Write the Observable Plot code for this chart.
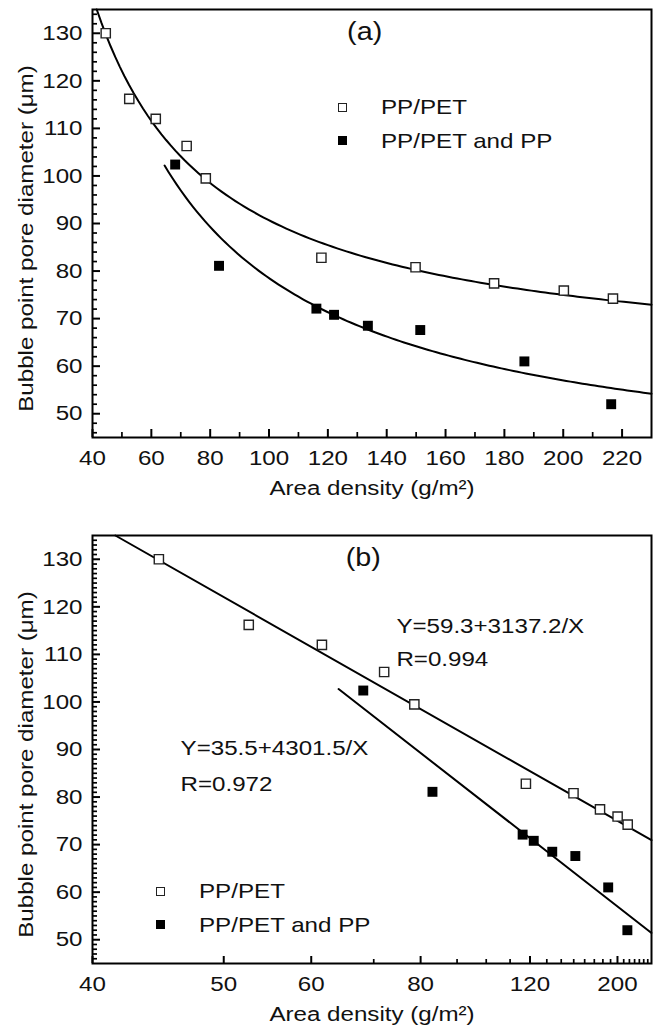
<!DOCTYPE html>
<html>
<head>
<meta charset="utf-8">
<script src="https://cdn.jsdelivr.net/npm/d3@7"></script>
<script src="https://cdn.jsdelivr.net/npm/@observablehq/plot@0.6"></script>
<style>
  html, body { margin: 0; padding: 0; background: #fff; overflow: hidden; }
  #wrap { position: relative; width: 653px; height: 1027px; font-family: "Liberation Sans", Arial, sans-serif; color: #111; }
  #wrap svg { display: block; }
  .leg { position: absolute; font-size: 21px; line-height: 1; white-space: nowrap; }
  .leg .sw { position: absolute; width: 9px; height: 9px; box-sizing: border-box; }
  .leg .open { border: 1.4px solid #222; background: #fff; }
  .leg .filled { background: #000; }
  .leg .lab { position: absolute; display: inline-block; transform: scaleX(1.15); transform-origin: left center; }
</style>
</head>
<body>
<div id="wrap"></div>
<script>
// ---- data ----
const seriesNames = ["PP/PET", "PP/PET and PP"];
const ppPetDensity  = [44.5, 52.5, 61.5, 72.0, 78.5, 117.8, 149.8, 176.5, 200.2, 216.9];
const ppPetDiameter = [130.0, 116.2, 112.0, 106.3, 99.5, 82.8, 80.8, 77.4, 75.9, 74.2];
const ppPetPpDensity  = [68.1, 83.0, 116.1, 122.1, 133.6, 151.4, 186.8, 216.3];
const ppPetPpDiameter = [102.4, 81.1, 72.1, 70.8, 68.5, 67.6, 61.0, 52.0];

// fitted models printed on the chart: Y = a + b / X
const fitPpPet   = [59.3, 3137.2];
const fitPpPetPp = [35.5, 4301.5];
const fitStartPpPetPp = 64.5;   // where the lower fitted curve starts
const fitLabels = ["Y=59.3+3137.2/X", "R=0.994", "Y=35.5+4301.5/X", "R=0.972"];

// axes
const yMajor = [50, 60, 70, 80, 90, 100, 110, 120, 130];
const xMajorA = [40, 60, 80, 100, 120, 140, 160, 180, 200, 220];
const xMinorA = [50, 70, 90, 110, 130, 150, 170, 190, 210];
const xMajorB = [40, 50, 60, 80, 120, 200];
const xMinorB = [70, 90, 100, 110, 130, 140, 150, 160, 170, 180, 190, 210, 220, 230, 240, 250, 260];
const xLabel = "Area density (g/m\u00B2)";
const yLabel = "Bubble point pore diameter (\u03BCm)";
const panelTags = ["(a)", "(b)"];

const yDomain = [45, 135];
const xDomainA = [40, 230];
const xDomainB = [40, 270];

// build tables
const ppPet = ppPetDensity.map((x, i) => ({x, y: ppPetDiameter[i]}));
const ppPetPp = ppPetPpDensity.map((x, i) => ({x, y: ppPetPpDiameter[i]}));
function fitCurve([a, b], x0, x1, n = 120) {
  return d3.range(n + 1).map(i => { const x = x0 + (x1 - x0) * i / n; return {x, y: a + b / x}; });
}
const startPpPet = fitPpPet[1] / (yDomain[1] - fitPpPet[0]);

const W = 653, ML = 92, MR = 2;
const innerW = W - ML - MR;
const innerH = 428;
const TXT = 1.15;
const font = {fontFamily: "Liberation Sans, Arial, sans-serif", fontSize: "21px", color: "#111", background: "#fff", overflow: "visible"};

function stretchText(svg, s) {
  svg.querySelectorAll("text").forEach(el => {
    const t = el.getAttribute("transform") || "";
    const x = parseFloat(el.getAttribute("x")) || 0, y = parseFloat(el.getAttribute("y")) || 0;
    el.setAttribute("transform", `${t} translate(${x},${y}) scale(${s},1) translate(${-x},${-y})`);
  });
}

// inward tick marks drawn as short rules (px lengths converted to data units)
function yAxisMarks(minorStep, xd) {
  const minor = d3.range(46, 135, minorStep).filter(v => v % 10 !== 0);
  const per = (xd[1] - xd[0]) / innerW;
  return [
    Plot.axisY(yMajor, {tickSize: 0, tickPadding: 10, label: null, fill: "#111"}),
    Plot.ruleY(yMajor, {y: d => d, x1: xd[0], x2: xd[0] + 8 * per, stroke: "#000", strokeWidth: 2}),
    Plot.ruleY(minor, {y: d => d, x1: xd[0], x2: xd[0] + 5 * per, stroke: "#000", strokeWidth: 1.7}),
    Plot.text([yLabel], {frameAnchor: "left", rotate: -90, dx: -66, dy: 15, textAnchor: "middle", lineAnchor: "middle", fill: "#111"}),
    Plot.text([xLabel], {frameAnchor: "bottom", dy: 57, textAnchor: "middle", lineAnchor: "bottom", fill: "#111"})
  ];
}
function xTickMarks(major, minor, xf, majorLen, minorLen) {
  const per = (yDomain[1] - yDomain[0]) / innerH;
  return [
    Plot.ruleX(major, {x: xf, y1: yDomain[0], y2: yDomain[0] + majorLen * per, stroke: "#000", strokeWidth: 2}),
    Plot.ruleX(minor, {x: xf, y1: yDomain[0], y2: yDomain[0] + minorLen * per, stroke: "#000", strokeWidth: 1.7})
  ];
}

// ---- panel (a) ----
const plotA = Plot.plot({
  width: W, height: 500,
  marginLeft: ML, marginRight: MR, marginTop: 9, marginBottom: 63,
  style: font,
  x: {domain: xDomainA},
  y: {domain: yDomain},
  marks: [
    Plot.axisX(xMajorA, {tickSize: 0, tickPadding: 13, label: null, fill: "#111"}),
    ...xTickMarks(xMajorA, xMinorA, d => d, 8, 5),
    ...yAxisMarks(2, xDomainA),
    Plot.line(fitCurve(fitPpPet, startPpPet, xDomainA[1]), {x: "x", y: "y", stroke: "#000", strokeWidth: 2}),
    Plot.line(fitCurve(fitPpPetPp, fitStartPpPetPp, xDomainA[1]), {x: "x", y: "y", stroke: "#000", strokeWidth: 2}),
    Plot.dot(ppPet, {x: "x", y: "y", symbol: "square", r: 5.2, fill: "#fff", stroke: "#222", strokeWidth: 1.4}),
    Plot.dot(ppPetPp, {x: "x", y: "y", symbol: "square", r: 5.6, fill: "#000"}),
    Plot.text([panelTags[0]], {x: [132.5], y: [130.2], textAnchor: "middle", lineAnchor: "middle", fontSize: 25, fill: "#111"}),
    Plot.frame({stroke: "#000", strokeWidth: 2})
  ]
});

// ---- panel (b): reciprocal x scale ----
const inv = v => 1 / v;
const plotB = Plot.plot({
  width: W, height: 527,
  marginLeft: ML, marginRight: MR, marginTop: 35, marginBottom: 64,
  style: font,
  x: {type: "linear", domain: xDomainB.map(inv)},
  y: {domain: yDomain},
  marks: [
    Plot.axisX(xMajorB.map(inv), {tickSize: 0, tickPadding: 13, label: null, fill: "#111", tickFormat: u => String(Math.round(1 / u))}),
    ...xTickMarks(xMajorB, xMinorB, inv, 7, 4),
    ...yAxisMarks(1, xDomainB.map(inv)),
    Plot.line(fitCurve(fitPpPet, startPpPet, xDomainB[1], 2), {x: d => inv(d.x), y: "y", stroke: "#000", strokeWidth: 2}),
    Plot.line(fitCurve(fitPpPetPp, fitStartPpPetPp - 0.5, xDomainB[1], 2), {x: d => inv(d.x), y: "y", stroke: "#000", strokeWidth: 2}),
    Plot.dot(ppPet, {x: d => inv(d.x), y: "y", symbol: "square", r: 5.2, fill: "#fff", stroke: "#222", strokeWidth: 1.4}),
    Plot.dot(ppPetPp, {x: d => inv(d.x), y: "y", symbol: "square", r: 5.6, fill: "#000"}),
    Plot.text([panelTags[1]], {x: [inv(68.1)], y: [130.2], textAnchor: "middle", lineAnchor: "middle", fontSize: 25, fill: "#111"}),
    Plot.text([fitLabels[0], fitLabels[1]], {x: [inv(74.5), inv(74.5)], y: [114.6, 107.5], textAnchor: "start", lineAnchor: "bottom", fill: "#111"}),
    Plot.text([fitLabels[2], fitLabels[3]], {x: [inv(46.2), inv(46.2)], y: [88.9, 81.2], textAnchor: "start", lineAnchor: "bottom", fill: "#111"}),
    Plot.frame({stroke: "#000", strokeWidth: 2})
  ]
});

stretchText(plotA, TXT);
stretchText(plotB, TXT);

const wrap = document.getElementById("wrap");
wrap.appendChild(plotA);
wrap.appendChild(plotB);

// legends (HTML overlay inside each panel)
function legend(left, topPx) {
  const d = document.createElement("div");
  d.className = "leg";
  d.style.left = left + "px";
  d.style.top = topPx + "px";
  seriesNames.forEach((name, i) => {
    const sw = document.createElement("span");
    sw.className = "sw " + (i === 0 ? "open" : "filled");
    sw.style.left = "-4.5px";
    sw.style.top = (i * 33.5 - 4.5) + "px";
    const lab = document.createElement("span");
    lab.className = "lab";
    lab.textContent = name;
    lab.style.left = "39px";
    lab.style.top = (i * 33.5 - 11) + "px";
    d.appendChild(sw);
    d.appendChild(lab);
  });
  wrap.appendChild(d);
}
legend(342, 107);
legend(160, 891);
</script>
</body>
</html>
